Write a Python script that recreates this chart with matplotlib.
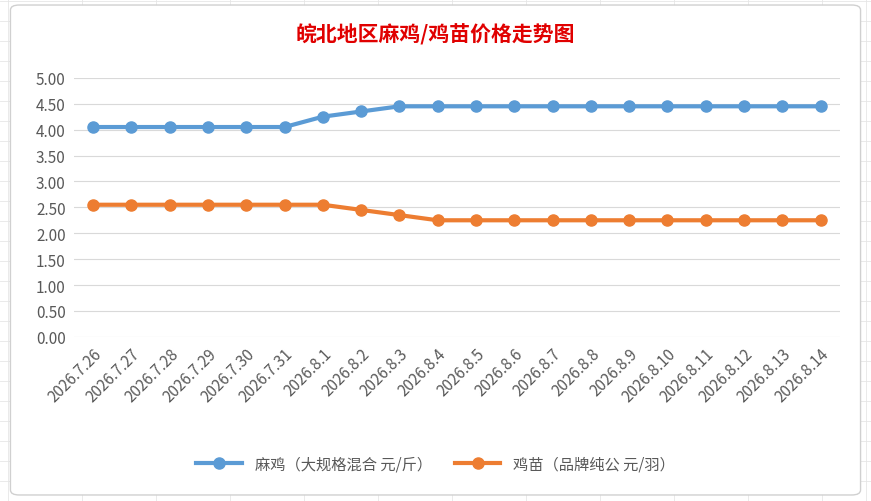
import matplotlib.pyplot as plt
from matplotlib.patches import FancyBboxPatch

plt.rcParams['font.family'] = ['Noto Sans CJK SC', 'DejaVu Sans']

dates = ["2026.7.26", "2026.7.27", "2026.7.28", "2026.7.29", "2026.7.30", "2026.7.31",
         "2026.8.1", "2026.8.2", "2026.8.3", "2026.8.4", "2026.8.5", "2026.8.6", "2026.8.7",
         "2026.8.8", "2026.8.9", "2026.8.10", "2026.8.11", "2026.8.12", "2026.8.13", "2026.8.14"]
mache = [4.05, 4.05, 4.05, 4.05, 4.05, 4.05, 4.25, 4.35, 4.45, 4.45, 4.45, 4.45, 4.45,
         4.45, 4.45, 4.45, 4.45, 4.45, 4.45, 4.45]
jimiao = [2.55, 2.55, 2.55, 2.55, 2.55, 2.55, 2.55, 2.45, 2.35, 2.25, 2.25, 2.25, 2.25,
          2.25, 2.25, 2.25, 2.25, 2.25, 2.25, 2.25]
yticks = [i * 0.5 for i in range(11)]

fig = plt.figure(figsize=(8.71, 5.02), dpi=100)
fig.patch.set_facecolor("white")

# faint spreadsheet cells behind the chart
for yy in range(0, 502, 20):
    fig.add_artist(plt.Line2D([0, 1], [yy / 502] * 2, color="#e6e6e6", lw=0.6, zorder=-3))
for xx in (8, 82, 156, 230, 304, 378, 452, 526, 600, 674, 748, 822, 866):
    fig.add_artist(plt.Line2D([xx / 871] * 2, [0, 1], color="#e6e6e6", lw=0.6, zorder=-3))
fig.add_artist(FancyBboxPatch((0.012, 0.012), 0.976, 0.976, boxstyle="round,pad=0,rounding_size=0.01",
                              transform=fig.transFigure, facecolor="white", edgecolor="#d0d0d0",
                              lw=1, zorder=-2))

ax = fig.add_axes([0.085, 0.327, 0.879, 0.516])
ax.set_facecolor("none")
x = list(range(len(dates)))
ax.plot(x, mache, color="#5b9bd5", lw=3, marker="o", ms=8, label="麻鸡（大规格混合 元/斤）")
ax.plot(x, jimiao, color="#ed7d31", lw=3, marker="o", ms=8, label="鸡苗（品牌纯公 元/羽）")
ax.set_xlim(-0.5, len(dates) - 0.5)
ax.set_ylim(0, 5)
ax.set_yticks(yticks)
ax.set_yticklabels([f"{v:.2f}" for v in yticks], fontsize=11, color="#595959")
ax.set_xticks(x)
ax.set_xticklabels(dates, rotation=45, ha="right", rotation_mode="anchor", fontsize=11, color="#595959")
ax.grid(axis="y", color="#d9d9d9", lw=0.8)
ax.set_axisbelow(True)
for s in ax.spines.values():
    s.set_visible(False)
ax.tick_params(length=0, pad=6)

fig.text(0.5, 0.93, "皖北地区麻鸡/鸡苗价格走势图", color="#e00000", fontsize=15, fontweight="bold", ha="center", va="center")
fig.legend(loc="center", bbox_to_anchor=(0.5, 0.074), ncol=2, frameon=False, fontsize=11,
           labelcolor="#595959", handlelength=3, columnspacing=1.5)

fig.savefig("out.png", dpi=100)
